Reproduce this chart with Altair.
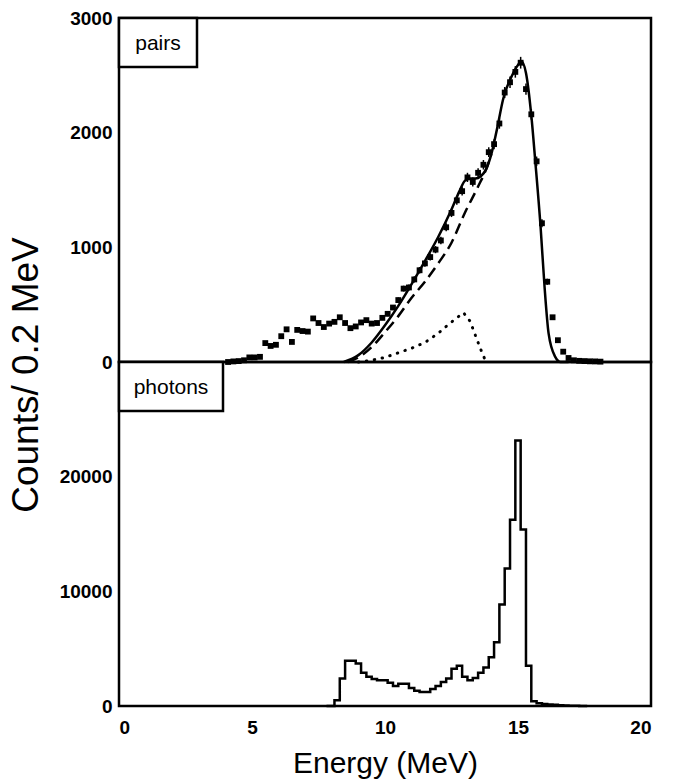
import altair as alt
import pandas as pd

FONT = "Liberation Sans"

# ---- pair spectrum (counts per 0.2 MeV bin), bin centres 4.1 ... 18.1 MeV ----
pair_energy = [round(4.1 + 0.2 * i, 1) for i in range(71)]
pair_counts = [
    0, 5, 8, 15, 40, 40, 45, 165, 140, 150,          # 4.1 - 5.9
    225, 285, 175, 280, 270, 265, 380, 340, 305, 335,  # 6.1 - 7.9
    350, 390, 340, 295, 310, 345, 365, 335, 340, 385,  # 8.1 - 9.9
    420, 475, 540, 640, 650, 720, 800, 860, 915, 980,  # 10.1 - 11.9
    1060, 1175, 1300, 1410, 1490, 1610, 1570, 1650, 1720, 1830,  # 12.1 - 13.9
    1900, 2080, 2350, 2440, 2530, 2610, 2380, 2160, 1750, 1210,  # 14.1 - 15.9
    700, 390, 190, 90, 35, 15, 10, 8, 6, 5,            # 16.1 - 17.9
    3,                                                 # 18.1
]

# total fit (solid)
fit_energy = [8.45, 9.0, 9.5, 10.0, 10.5, 11.0, 11.5, 12.0, 12.5, 12.8, 13.0,
              13.2, 13.4, 13.6, 13.8, 14.0, 14.2, 14.45, 14.8, 15.0, 15.13,
              15.3, 15.5, 15.65, 15.85, 16.0, 16.15, 16.4, 16.6, 16.9]
fit_counts = [0, 60, 170, 320, 490, 680, 880, 1090, 1330, 1490, 1580,
              1600, 1600, 1620, 1680, 1815, 2020, 2300, 2510, 2590, 2620,
              2520, 2150, 1750, 1175, 650, 250, 45, 0, 0]

# main response component (dashed)
main_energy = [8.6, 9.0, 9.5, 10.0, 10.5, 11.0, 11.5, 12.0, 12.5, 13.0, 13.5, 13.8, 14.0]
main_counts = [0, 40, 130, 260, 400, 560, 700, 860, 1040, 1300, 1530, 1680, 1815]

# secondary component (dotted)
sec_energy = [9.0, 9.5, 10.0, 10.5, 11.0, 11.5, 12.0, 12.4, 12.95, 13.2, 13.45, 13.65, 13.8]
sec_counts = [0, 15, 40, 80, 120, 170, 250, 330, 430, 355, 200, 80, 0]

# ---- photon spectrum (histogram, 0.2 MeV bins, centres) ----
photon_energy = [7.8, 8.0, 8.2, 8.4, 8.6, 8.8, 9.0, 9.2, 9.4, 9.6, 9.8, 10.0,
                 10.2, 10.4, 10.6, 10.8, 11.0, 11.2, 11.4, 11.6, 11.8, 12.0,
                 12.2, 12.4, 12.6, 12.8, 13.0, 13.2, 13.4, 13.6, 13.8, 14.0,
                 14.2, 14.4, 14.6, 14.8, 15.0, 15.2, 15.4, 15.6, 15.8, 16.0,
                 16.2, 16.4, 16.6, 16.8, 17.0, 17.2, 17.4, 17.6]
photon_counts = [0, 0, 500, 2400, 3950, 3950, 3700, 2900, 2550, 2350, 2250, 2250,
                 2020, 1750, 1930, 1930, 1580, 1320, 1230, 1230, 1490, 1750,
                 2100, 2400, 3250, 3500, 2550, 2250, 2450, 2900, 3350, 4250,
                 5550, 8850, 12000, 16250, 23150, 15400, 3500, 420, 250, 180,
                 140, 100, 70, 50, 30, 15, 5, 0]

pairs = pd.DataFrame({"E": pair_energy, "N": pair_counts})
fit = pd.DataFrame({"E": fit_energy, "N": fit_counts})
main = pd.DataFrame({"E": main_energy, "N": main_counts})
sec = pd.DataFrame({"E": sec_energy, "N": sec_counts})
photons = pd.DataFrame({"E": photon_energy, "N": photon_counts})

W = 532
H = 344
LW = 2.5

x_scale = alt.Scale(domain=[0, 20], nice=False)
x_top = alt.X("E:Q", scale=x_scale,
              axis=alt.Axis(labels=False, ticks=False, title=None, domain=False, grid=False))
y_top_scale = alt.Scale(domain=[0, 3000], nice=False)
y_top_axis = alt.Axis(values=[0, 1000, 2000, 3000], format="d", ticks=False, domain=False,
                      grid=False, title=None, labelPadding=7)

# error bars (Poisson) and data squares
errbars = alt.Chart(pairs).transform_calculate(
    lo="datum.N - sqrt(datum.N)", hi="datum.N + sqrt(datum.N)"
).mark_rule(color="black", strokeWidth=1.5).encode(
    x=x_top,
    y=alt.Y("lo:Q", scale=y_top_scale, axis=y_top_axis),
    y2="hi:Q",
)
points = alt.Chart(pairs).mark_square(size=34, color="black", opacity=1).encode(
    x=x_top, y=alt.Y("N:Q", scale=y_top_scale, axis=y_top_axis)
)
fit_line = alt.Chart(fit).mark_line(color="black", strokeWidth=LW, interpolate="monotone").encode(
    x=x_top, y=alt.Y("N:Q", scale=y_top_scale, axis=y_top_axis)
)
main_line = alt.Chart(main).mark_line(color="black", strokeWidth=LW, strokeDash=[11, 6],
                                      interpolate="monotone").encode(
    x=x_top, y=alt.Y("N:Q", scale=y_top_scale, axis=y_top_axis)
)
sec_line = alt.Chart(sec).mark_line(color="black", strokeWidth=3, strokeDash=[0.5, 7.5],
                                    strokeCap="round").encode(
    x=x_top, y=alt.Y("N:Q", scale=y_top_scale, axis=y_top_axis)
)

one = pd.DataFrame({"k": [0]})


def label_box(text, width):
    box = alt.Chart(one).mark_rect(fill="white", stroke="black", strokeWidth=2.5).encode(
        x=alt.value(0), x2=alt.value(width), y=alt.value(0), y2=alt.value(49)
    )
    txt = alt.Chart(one).mark_text(text=text, font=FONT, fontSize=21, color="black",
                                   align="center", baseline="middle").encode(
        x=alt.value(width / 2), y=alt.value(26)
    )
    return box + txt


y_title = alt.Chart(one).mark_text(text="Counts/ 0.2 MeV", font=FONT, fontSize=37,
                                   color="black", angle=270, align="center",
                                   baseline="middle").encode(
    x=alt.value(-92), y=alt.value(357)
)

top = alt.layer(
    errbars, points, main_line, sec_line, fit_line, label_box("pairs", 78), y_title
).properties(width=W, height=H)

# bottom panel
x_bot = alt.X("E:Q", scale=x_scale,
              axis=alt.Axis(values=[0, 5, 10, 15, 20], ticks=False, domain=False, grid=False,
                            title="Energy (MeV)", labelPadding=12, titlePadding=11,
                            titleFont=FONT, titleFontSize=30, titleFontWeight="normal"))
y_bot = alt.Y("N:Q", scale=alt.Scale(domain=[0, 30000], nice=False),
              axis=alt.Axis(values=[0, 10000, 20000], format="d", ticks=False, domain=False,
                            grid=False, title=None, labelPadding=7))
hist = alt.Chart(photons).mark_line(color="black", strokeWidth=LW,
                                    interpolate="step").encode(x=x_bot, y=y_bot)

bottom = alt.layer(hist, label_box("photons", 104)).properties(width=W, height=H)

chart = alt.vconcat(top, bottom, spacing=0, bounds="flush").properties(
    padding={"left": 6, "top": 7, "right": 10, "bottom": 5},
    background="white",
).configure_view(
    stroke="black", strokeWidth=2.5
).configure_axis(
    labelFont=FONT, labelFontSize=19, labelFontWeight="bold", labelColor="black",
    titleColor="black"
)

chart.save("out.html", embed_options={"renderer": "svg", "actions": False})
